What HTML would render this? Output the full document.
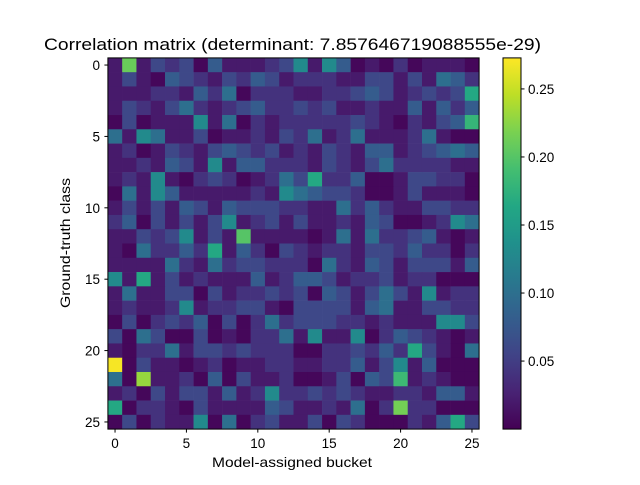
<!DOCTYPE html>
<html><head><meta charset="utf-8"><style>
html,body{margin:0;padding:0;background:#fff;}
svg text{font-family:"Liberation Sans","DejaVu Sans",sans-serif;fill:#000;}
</style></head><body>
<svg id="chart" width="640" height="480" viewBox="0 0 640 480" xmlns="http://www.w3.org/2000/svg">
<rect width="640" height="480" fill="#fff"/>
<text x="44" y="50" font-size="16.7" textLength="497" lengthAdjust="spacingAndGlyphs">Correlation matrix (determinant: 7.857646719088555e-29)</text>
<g id="cells"></g>
<rect x="107.9" y="57.9" width="371.2" height="371.2" fill="none" stroke="#000" stroke-width="1"/>
<g id="xaxis"></g>
<g id="yaxis"></g>
<text x="212" y="467" font-size="14" textLength="160" lengthAdjust="spacingAndGlyphs">Model-assigned bucket</text>
<text x="70" y="243" font-size="14" text-anchor="middle" textLength="130" lengthAdjust="spacingAndGlyphs" transform="rotate(-90 70 243)">Ground-truth class</text>
<defs><linearGradient id="cbgrad" x1="0" y1="1" x2="0" y2="0"></linearGradient></defs>
<rect x="503" y="57.9" width="18" height="371.2" fill="url(#cbgrad)" stroke="#000" stroke-width="1"/>
<g id="cbaxis"></g>
</svg>
<script>
const xTicks = [0,5,10,15,20,25];
const yTicks = [0,5,10,15,20,25];
const cbTicks = [0.05,0.10,0.15,0.20,0.25];
const cbTickLabels = ["0.05","0.10","0.15","0.20","0.25"];
const vmin = 0.0, vmax = 0.2728;
const matrix = [
[0.02,0.21,0.02,0.06,0.04,0.06,0.005,0.08,0.02,0.02,0.02,0.04,0.06,0.13,0.02,0.13,0.08,0.005,0.02,0.005,0.04,0.005,0.02,0.02,0.02,0.005],
[0.02,0.06,0.02,0.005,0.08,0.06,0.04,0.02,0.06,0.04,0.08,0.06,0.02,0.04,0.04,0.04,0.02,0.02,0.06,0.06,0.02,0.06,0.02,0.10,0.08,0.04],
[0.02,0.02,0.02,0.04,0.04,0.02,0.08,0.04,0.10,0.005,0.04,0.04,0.04,0.02,0.02,0.04,0.04,0.06,0.08,0.06,0.02,0.04,0.06,0.04,0.06,0.165],
[0.02,0.06,0.04,0.02,0.06,0.10,0.04,0.02,0.04,0.06,0.08,0.04,0.04,0.06,0.04,0.06,0.02,0.02,0.04,0.02,0.02,0.08,0.02,0.08,0.04,0.08],
[0.005,0.06,0.005,0.02,0.02,0.02,0.13,0.02,0.10,0.005,0.04,0.02,0.04,0.04,0.04,0.04,0.04,0.06,0.04,0.02,0.005,0.04,0.02,0.06,0.08,0.18],
[0.10,0.02,0.13,0.10,0.02,0.02,0.06,0.005,0.02,0.02,0.04,0.02,0.06,0.04,0.10,0.02,0.04,0.10,0.02,0.02,0.02,0.04,0.10,0.02,0.005,0.005],
[0.02,0.04,0.005,0.02,0.06,0.04,0.02,0.06,0.08,0.06,0.04,0.06,0.02,0.04,0.02,0.06,0.04,0.02,0.08,0.08,0.02,0.04,0.06,0.08,0.10,0.08],
[0.02,0.02,0.04,0.02,0.08,0.06,0.02,0.13,0.02,0.08,0.08,0.04,0.04,0.04,0.02,0.06,0.04,0.02,0.06,0.10,0.04,0.04,0.04,0.04,0.02,0.02],
[0.02,0.04,0.02,0.13,0.02,0.005,0.04,0.06,0.04,0.005,0.02,0.04,0.10,0.06,0.165,0.04,0.04,0.08,0.005,0.005,0.02,0.06,0.06,0.04,0.04,0.005],
[0.005,0.10,0.02,0.13,0.08,0.02,0.02,0.02,0.02,0.02,0.04,0.02,0.13,0.10,0.08,0.06,0.06,0.04,0.005,0.005,0.02,0.06,0.02,0.02,0.02,0.005],
[0.02,0.06,0.02,0.06,0.02,0.08,0.06,0.02,0.08,0.06,0.06,0.06,0.04,0.04,0.02,0.02,0.10,0.04,0.08,0.04,0.02,0.02,0.06,0.06,0.04,0.04],
[0.04,0.08,0.005,0.06,0.02,0.06,0.02,0.06,0.13,0.02,0.04,0.06,0.02,0.06,0.02,0.02,0.04,0.02,0.08,0.06,0.005,0.005,0.02,0.04,0.13,0.10],
[0.02,0.02,0.06,0.04,0.06,0.13,0.02,0.06,0.02,0.20,0.02,0.02,0.02,0.02,0.005,0.02,0.10,0.02,0.10,0.04,0.04,0.06,0.08,0.02,0.005,0.02],
[0.02,0.005,0.10,0.04,0.04,0.08,0.04,0.165,0.02,0.08,0.04,0.005,0.06,0.04,0.02,0.04,0.04,0.02,0.06,0.06,0.04,0.08,0.04,0.04,0.005,0.04],
[0.02,0.02,0.02,0.02,0.10,0.04,0.02,0.10,0.04,0.06,0.06,0.04,0.04,0.04,0.005,0.10,0.04,0.02,0.08,0.06,0.02,0.06,0.06,0.06,0.02,0.08],
[0.13,0.02,0.165,0.02,0.06,0.02,0.04,0.02,0.02,0.02,0.08,0.02,0.04,0.08,0.08,0.06,0.02,0.04,0.04,0.06,0.02,0.04,0.04,0.005,0.005,0.005],
[0.02,0.10,0.02,0.02,0.06,0.06,0.005,0.06,0.02,0.04,0.04,0.06,0.04,0.06,0.005,0.08,0.06,0.02,0.06,0.10,0.06,0.02,0.13,0.02,0.04,0.04],
[0.02,0.04,0.02,0.02,0.04,0.13,0.02,0.04,0.04,0.06,0.06,0.02,0.005,0.06,0.06,0.06,0.06,0.02,0.08,0.10,0.02,0.02,0.06,0.06,0.04,0.04],
[0.005,0.06,0.005,0.04,0.06,0.04,0.08,0.005,0.06,0.005,0.04,0.10,0.04,0.06,0.06,0.06,0.04,0.04,0.02,0.04,0.02,0.02,0.02,0.13,0.13,0.06],
[0.06,0.005,0.10,0.06,0.005,0.005,0.06,0.005,0.02,0.005,0.04,0.04,0.10,0.02,0.13,0.02,0.02,0.13,0.005,0.04,0.08,0.06,0.04,0.02,0.005,0.02],
[0.02,0.005,0.04,0.04,0.10,0.02,0.06,0.06,0.04,0.06,0.04,0.04,0.04,0.005,0.005,0.04,0.04,0.06,0.04,0.08,0.04,0.165,0.06,0.02,0.005,0.10],
[0.27,0.005,0.06,0.02,0.02,0.005,0.02,0.04,0.005,0.02,0.02,0.04,0.04,0.02,0.02,0.04,0.04,0.08,0.02,0.06,0.13,0.02,0.08,0.005,0.005,0.005],
[0.10,0.005,0.23,0.02,0.02,0.04,0.005,0.08,0.005,0.06,0.02,0.02,0.04,0.005,0.005,0.02,0.06,0.005,0.08,0.06,0.185,0.02,0.04,0.02,0.005,0.005],
[0.02,0.04,0.005,0.06,0.02,0.06,0.06,0.02,0.08,0.02,0.04,0.13,0.04,0.04,0.06,0.04,0.06,0.04,0.02,0.02,0.04,0.04,0.02,0.08,0.08,0.02],
[0.165,0.005,0.04,0.04,0.02,0.005,0.06,0.02,0.02,0.02,0.02,0.08,0.06,0.02,0.02,0.04,0.02,0.10,0.005,0.04,0.215,0.04,0.04,0.005,0.005,0.005],
[0.005,0.06,0.005,0.04,0.02,0.02,0.13,0.005,0.10,0.005,0.04,0.06,0.02,0.02,0.06,0.005,0.06,0.04,0.005,0.005,0.005,0.04,0.02,0.08,0.165,0.06]
];
const VIR = [[68,1,84],[72,35,116],[64,67,135],[52,94,141],[41,120,142],[32,144,140],[34,167,132],[68,190,112],[121,209,81],[189,222,38],[253,231,37]];
function viridis(t){
  t=Math.max(0,Math.min(1,t));
  const p=t*(VIR.length-1), i=Math.min(Math.floor(p),VIR.length-2), f=p-i;
  const c=VIR[i].map((v,k)=>Math.round(v+(VIR[i+1][k]-v)*f));
  return `rgb(${c[0]},${c[1]},${c[2]})`;
}
const NS="http://www.w3.org/2000/svg";
const x0=107.9, y0=57.9, cell=14.277;
const xScale = c => x0 + (c+0.5)*cell;
const yScale = r => y0 + (r+0.5)*cell;
const cbTop=57.9, cbBot=429.1;
const cbScale = v => cbBot - (v-vmin)/(vmax-vmin)*(cbBot-cbTop);
const cellsG=document.getElementById('cells');
matrix.forEach((row,r)=>row.forEach((v,c)=>{
  const rc=document.createElementNS(NS,'rect');
  rc.setAttribute('x',(xScale(c)-cell/2).toFixed(2));
  rc.setAttribute('y',(yScale(r)-cell/2).toFixed(2));
  rc.setAttribute('width',(cell+0.3).toFixed(2));
  rc.setAttribute('height',(cell+0.3).toFixed(2));
  rc.setAttribute('fill',viridis((v-vmin)/(vmax-vmin)));
  
  
  cellsG.appendChild(rc);
}));
const xa=document.getElementById('xaxis');
xTicks.forEach(t=>{
  const x=xScale(t);
  const l=document.createElementNS(NS,'line');
  l.setAttribute('x1',x);l.setAttribute('x2',x);l.setAttribute('y1',429.1);l.setAttribute('y2',432.6);l.setAttribute('stroke','#000');
  
  
  xa.appendChild(l);
  const tx=document.createElementNS(NS,'text');
  tx.setAttribute('x',x);tx.setAttribute('y',448);tx.setAttribute('font-size','13.5');tx.setAttribute('text-anchor','middle');
  tx.textContent=String(t);
  
  
  xa.appendChild(tx);
});
const ya=document.getElementById('yaxis');
yTicks.forEach(t=>{
  const y=yScale(t);
  const l=document.createElementNS(NS,'line');
  l.setAttribute('x1',104.4);l.setAttribute('x2',107.9);l.setAttribute('y1',y);l.setAttribute('y2',y);l.setAttribute('stroke','#000');
  
  
  ya.appendChild(l);
  const tx=document.createElementNS(NS,'text');
  tx.setAttribute('x',100);tx.setAttribute('y',y+5);tx.setAttribute('font-size','13.5');tx.setAttribute('text-anchor','end');
  tx.textContent=String(t);
  
  
  ya.appendChild(tx);
});
const grad=document.getElementById('cbgrad');
for(let i=0;i<=20;i++){
  const s=document.createElementNS(NS,'stop');
  s.setAttribute('offset',(i/20));
  s.setAttribute('stop-color',viridis(i/20));
  grad.appendChild(s);
}
const cba=document.getElementById('cbaxis');
cbTicks.forEach((t,i)=>{
  const y=cbScale(t);
  const l=document.createElementNS(NS,'line');
  l.setAttribute('x1',521);l.setAttribute('x2',524.5);l.setAttribute('y1',y);l.setAttribute('y2',y);l.setAttribute('stroke','#000');
  
  
  cba.appendChild(l);
  const tx=document.createElementNS(NS,'text');
  tx.setAttribute('x',528);tx.setAttribute('y',y+5);tx.setAttribute('font-size','13.5');
  tx.textContent=cbTickLabels[i];
  
  
  cba.appendChild(tx);
});
</script>
</body></html>
